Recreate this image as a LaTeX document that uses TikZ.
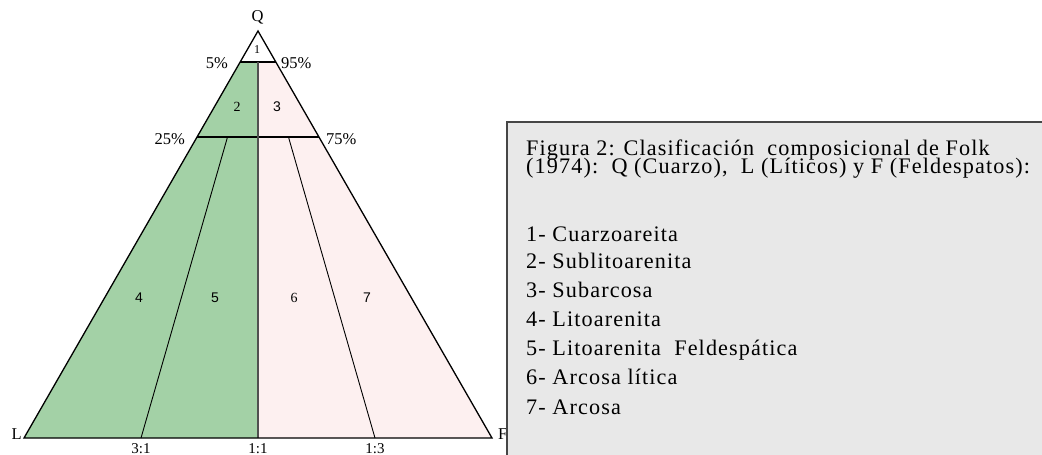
\documentclass[tikz,border=0pt]{standalone}
\usepackage{fontspec}
\usetikzlibrary{calc}
\setmainfont{Liberation Serif}
\newfontfamily\lsans{Liberation Sans}
\newfontfamily\boxfont[LetterSpace=5]{Liberation Serif}
\definecolor{greenfill}{RGB}{163,209,166}
\definecolor{pinkfill}{RGB}{253,240,240}
\definecolor{boxfill}{RGB}{232,232,232}
\definecolor{boxline}{RGB}{70,70,70}
\definecolor{midline}{RGB}{80,80,80}
\begin{document}
\begin{tikzpicture}[x=1pt,y=-1pt,
  lbl/.style={font=\fontsize{16.5}{16.5}\selectfont, inner sep=0pt, anchor=base},
  numserif/.style={font=\fontsize{14}{14}\selectfont, inner sep=0pt},
  numsans/.style={font=\lsans\fontsize{14}{14}\selectfont, inner sep=0pt},
  boxtxt/.style={font=\boxfont\fontsize{22.2}{22.2}\selectfont, inner sep=0pt, anchor=base west},
  edge/.style={line width=1.3pt, black},
  thin/.style={line width=0.9pt, black}]
\useasboundingbox (0,0) rectangle (1042,455);
\fill[white] (0,0) rectangle (1042,455);
% key points
\coordinate (Q) at (258,31);
\coordinate (L) at (24,438);
\coordinate (F) at (492,438);
\coordinate (a5l) at (240,62);
\coordinate (a5r) at (276,62);
\coordinate (m5) at (258,62);
\coordinate (a25l) at (197,137);
\coordinate (a25r) at (319,137);
\coordinate (c31) at (141,438);
\coordinate (c11) at (258,438);
\coordinate (c13) at (375,438);
\coordinate (t31) at ($(c31)!0.7396!(Q)$);
\coordinate (t13) at ($(c13)!0.7396!(Q)$);
% fills
\fill[greenfill] (a5l) -- (m5) -- (c11) -- (L) -- cycle;
\fill[pinkfill] (m5) -- (a5r) -- (F) -- (c11) -- cycle;
% lines
\draw[thin] (c31) -- (t31);
\draw[thin] (c13) -- (t13);
\draw[edge] (a5l) -- (a5r);
\draw[edge] (a25l) -- (a25r);
\draw[line width=2pt, midline] (m5) -- (c11);
\draw[edge, line join=miter] (L) -- (Q) -- (F) -- cycle;
% vertex labels
\node[lbl] (lQ) at (257.5,21) {Q};
\node[lbl, anchor=base east] (lL) at (22,439) {L};
\node[lbl, anchor=base west] (lF) at (498,439) {F};
\node[lbl, anchor=base east] (p5) at (228,68) {5\%};
\node[lbl, anchor=base west] (p95) at (281,68) {95\%};
\node[lbl, anchor=base east] (p25) at (185,144) {25\%};
\node[lbl, anchor=base west] (p75) at (326,144) {75\%};
\node[lbl, font=\fontsize{15}{15}\selectfont] (r31) at (141,453) {3:1};
\node[lbl, font=\fontsize{15}{15}\selectfont] (r11) at (258,453) {1:1};
\node[lbl, font=\fontsize{15}{15}\selectfont] (r13) at (375,453) {1:3};
% region numbers
\node[numserif, font=\fontsize{12}{12}\selectfont] (n1) at (257,50) {1};
\node[numserif] (n2) at (237,107) {2};
\node[numsans] (n3) at (277,107) {3};
\node[numsans] (n4) at (139,298) {4};
\node[numsans] (n5) at (215,298) {5};
\node[numserif] (n6) at (294,298) {6};
\node[numsans] (n7) at (367,298) {7};
% legend box
\draw[fill=boxfill, draw=boxline, line width=2pt] (507,122) rectangle (1060,470);
\node[boxtxt, align=left, font={\boxfont\fontsize{22.2}{18.5}\selectfont\lineskiplimit-30pt\relax}]
  (t0) at (526,173.5) {Figura 2: Clasificación\ \ composicional de Folk\\(1974):\ \ Q (Cuarzo),\ \ L (Líticos) y F (Feldespatos):};
\node[boxtxt] (t2) at (526,241) {1- Cuarzoareita};
\node[boxtxt] (t3) at (526,268.5) {2- Sublitoarenita};
\node[boxtxt] (t4) at (526,297.5) {3- Subarcosa};
\node[boxtxt] (t5) at (526,326) {4- Litoarenita};
\node[boxtxt] (t6) at (526,355) {5- Litoarenita\ \ Feldespática};
\node[boxtxt] (t7) at (526,384) {6- Arcosa lítica};
\node[boxtxt] (t8) at (526,414) {7- Arcosa};
\end{tikzpicture}
\end{document}
